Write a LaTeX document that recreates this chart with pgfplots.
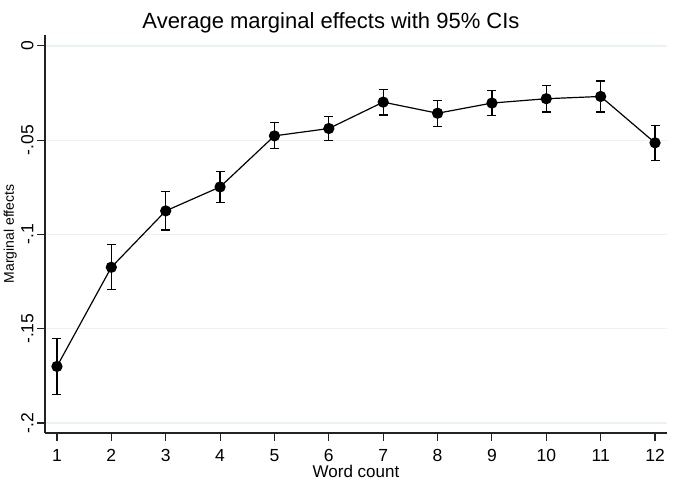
\documentclass[border=0pt]{standalone}
\usepackage{pgfplots}
\pgfplotsset{compat=1.18}
\usepackage{fontspec}
\setmainfont{Liberation Sans}
\definecolor{gridc}{HTML}{EAF2F3}
\definecolor{axc}{HTML}{222222}
\begin{document}
\begin{tikzpicture}
\useasboundingbox (-45pt,-62pt) rectangle (640pt,433pt);
\begin{axis}[
  at={(0pt,0pt)}, anchor=south west,
  scale only axis, width=622pt, height=398pt,
  xmin=0.78, xmax=12.22, ymin=-0.2053, ymax=0.0058,
  axis x line*=bottom, axis y line*=left,
  axis line style={axc, line width=1.1pt, -},
  xtick={1,2,3,4,5,6,7,8,9,10,11,12},
  xticklabels={1,2,3,4,5,6,7,8,9,10,11,12},
  ytick={-0.2,-0.15,-0.1,-0.05,0},
  yticklabels={-.2,-.15,-.1,-.05,0},
  tick align=outside, major tick length=7.5pt,
  tick style={axc, line width=1.1pt},
  minor tick num=0,
  ymajorgrids, grid style={gridc, line width=1.2pt},
  xticklabel style={anchor=base, font=\fontsize{17.5}{20}\selectfont},
  xticklabel shift=20.7pt,
  yticklabel style={rotate=90, anchor=base, font=\fontsize{17.5}{20}\selectfont},
  yticklabel shift=4pt,
  clip=false,
]
\addplot[black, line width=1.2pt, mark=*, mark size=5pt,
  mark options={solid, fill=black},
  error bars/.cd, y dir=both, y explicit,
  error mark options={rotate=90, mark size=4.5pt, line width=1.2pt, black},
  error bar style={line width=1.2pt, black}]
coordinates {
(1,-0.1700) +- (0,0.0150)
(2,-0.1174) +- (0,0.0120)
(3,-0.0875) +- (0,0.0101)
(4,-0.0748) +- (0,0.0082)
(5,-0.0477) +- (0,0.0069)
(6,-0.0438) +- (0,0.0062)
(7,-0.0298) +- (0,0.0068)
(8,-0.0357) +- (0,0.0069)
(9,-0.0303) +- (0,0.0068)
(10,-0.0280) +- (0,0.0070)
(11,-0.0268) +- (0,0.0082)
(12,-0.0514) +- (0,0.0094)
};
\end{axis}
\node[anchor=base, inner sep=0pt, font=\fontsize{22}{26}\selectfont] at (286pt,404pt) {Average marginal effects with 95\% CIs};
\node[anchor=base, inner sep=0pt, font=\fontsize{17}{20}\selectfont] at (311pt,-45pt) {Word count};
\node[anchor=base, rotate=90, inner sep=0pt, font=\fontsize{14}{17}\selectfont] at (-31pt,199pt) {Marginal effects};
\end{tikzpicture}
\end{document}
